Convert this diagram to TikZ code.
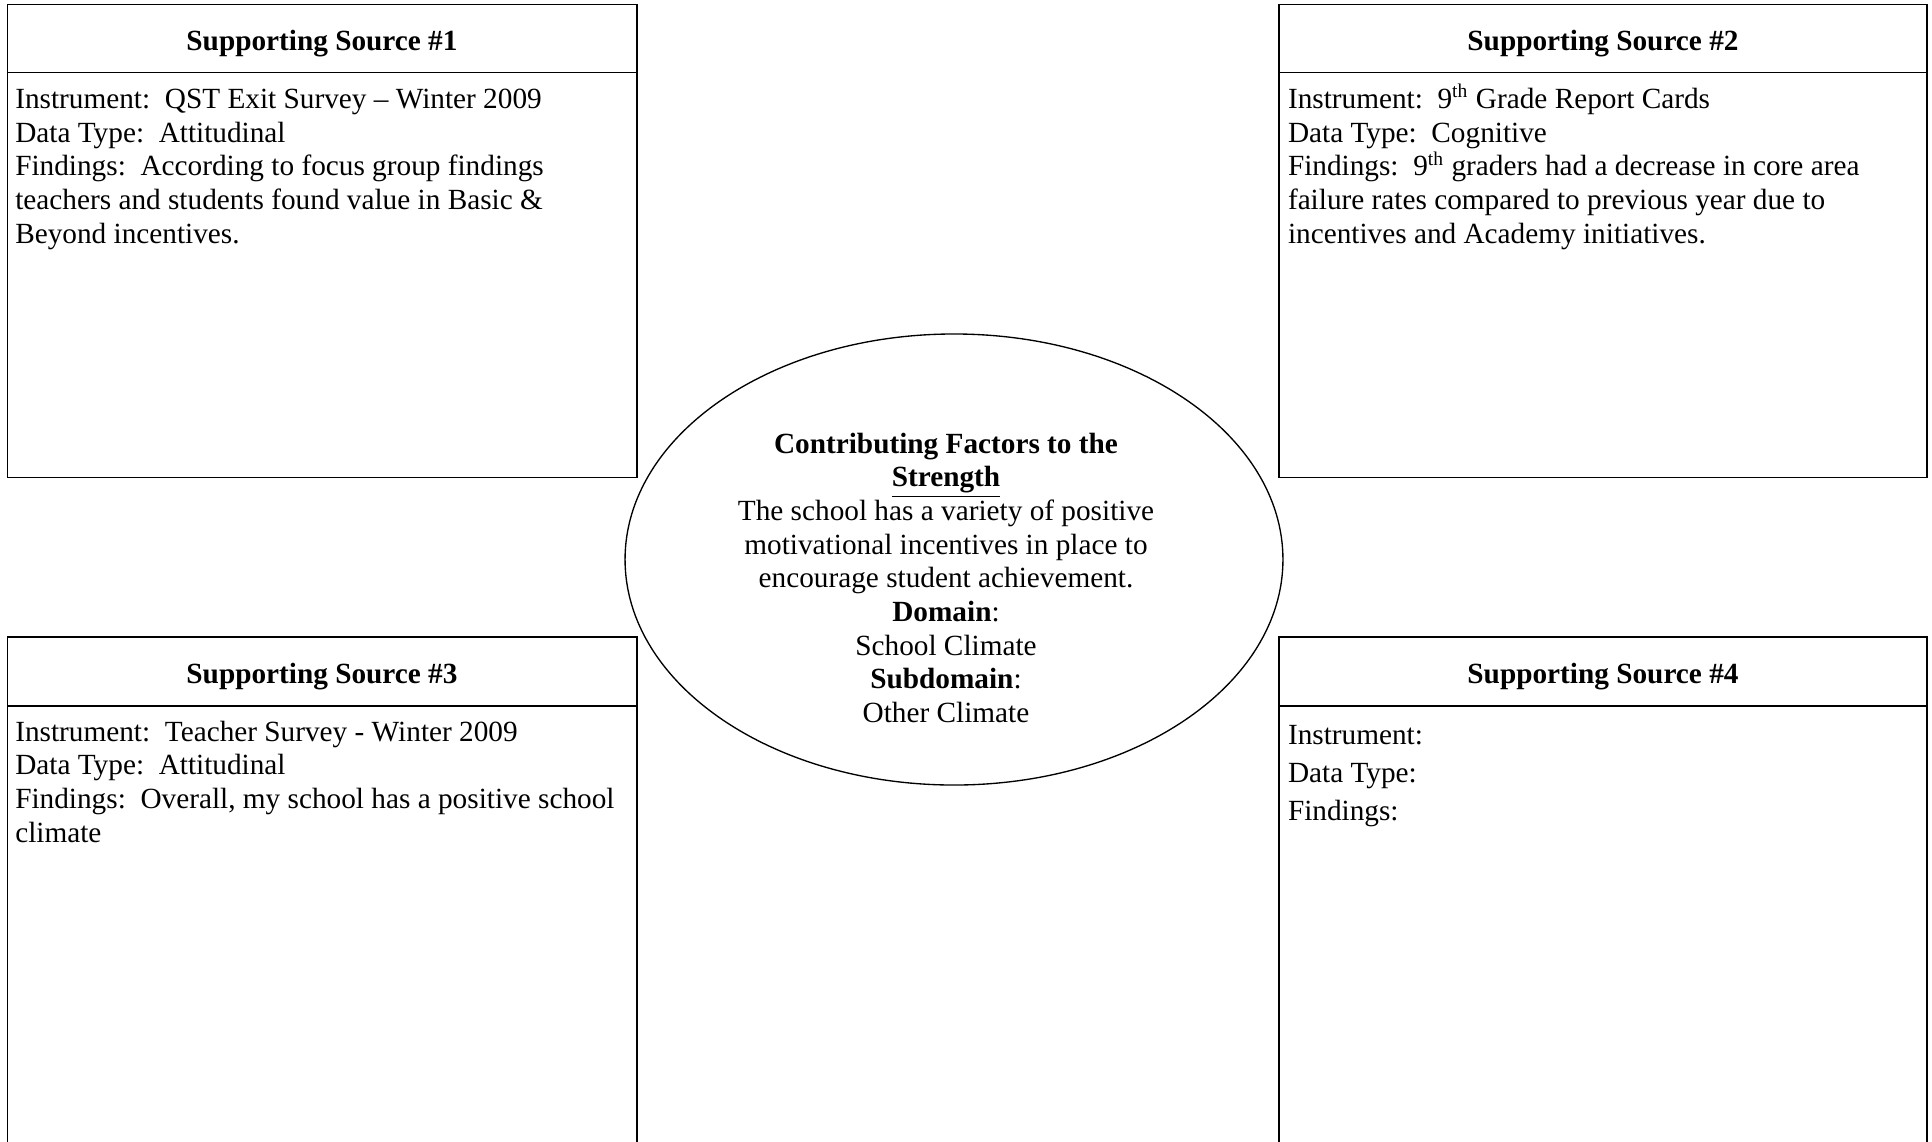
\documentclass[tikz,border=0pt]{standalone}
\usepackage{fontspec}
\setmainfont{Liberation Serif}
\usetikzlibrary{shapes.geometric}
\begin{document}
\begin{tikzpicture}[x=0.40994pt,y=-0.40994pt,
  frame/.style={draw=black,line width=0.55pt},
  head/.style={font=\fontsize{12}{13.8}\selectfont\bfseries,anchor=base,inner sep=0pt},
  body/.style={font=\fontsize{12}{13.8}\selectfont,anchor=base west,inner sep=0pt},
  mid/.style={font=\fontsize{12}{13.8}\selectfont,anchor=base,inner sep=0pt}]
\useasboundingbox[fill=white] (0,0) rectangle (1932,1141);
\clip (0,0) rectangle (1932,1141);

% four source boxes, each with a header strip
\draw[frame] (7.5,4.5) rectangle (637,477.5);
\draw[frame] (7.5,72.5) -- (637,72.5);
\draw[frame] (1279,4.5) rectangle (1927,477.5);
\draw[frame] (1279,72.5) -- (1927,72.5);
\draw[frame] (7.5,637) rectangle (637,1170);
\draw[frame] (7.5,706) -- (637,706);
\draw[frame] (1279,637) rectangle (1927,1170);
\draw[frame] (1279,706) -- (1927,706);

% Source 1
\node[head] (h1) at (322,50) {Supporting Source \#1};
\node[body] (s1a) at (14.8,108.3) {Instrument:\ \ QST Exit Survey – Winter 2009};
\node[body] (s1b) at (14.8,142) {Data Type:\ \ Attitudinal};
\node[body] (s1c) at (14.8,175.7) {Findings:\ \ According to focus group findings};
\node[body] (s1d) at (14.8,209.4) {teachers and students found value in Basic \&};
\node[body] (s1e) at (14.8,243.1) {Beyond incentives.};

% Source 2
\node[head] (h2) at (1603,50) {Supporting Source \#2};
\node[body] (s2a) at (1287.5,108.3) {Instrument:\ \ 9\textsuperscript{th} Grade Report Cards};
\node[body] (s2b) at (1287.5,142) {Data Type:\ \ Cognitive};
\node[body] (s2c) at (1287.5,175.7) {Findings:\ \ 9\textsuperscript{th} graders had a decrease in core area};
\node[body] (s2d) at (1287.5,209.4) {failure rates compared to previous year due to};
\node[body] (s2e) at (1287.5,243.1) {incentives and Academy initiatives.};

% Source 3
\node[head] (h3) at (322,683.3) {Supporting Source \#3};
\node[body] (s3a) at (14.8,741) {Instrument:\ \ Teacher Survey - Winter 2009};
\node[body] (s3b) at (14.8,774.7) {Data Type:\ \ Attitudinal};
\node[body] (s3c) at (14.8,808.4) {Findings:\ \ Overall, my school has a positive school};
\node[body] (s3d) at (14.8,842.1) {climate};

% Source 4
\node[head] (h4) at (1603,683.3) {Supporting Source \#4};
\node[body] (s4a) at (1287.5,744) {Instrument:};
\node[body] (s4b) at (1287.5,782) {Data Type:};
\node[body] (s4c) at (1287.5,820) {Findings:};

% central strength ellipse
\node[ellipse,draw=black,line width=0.55pt,fill=white,inner sep=0pt,
      minimum width=269.7pt,minimum height=184.9pt] (core) at (954,559.5) {};
\node[mid,font=\fontsize{12}{13.8}\selectfont\bfseries] (c1) at (946,453) {Contributing Factors to the};
\node[mid,font=\fontsize{12}{13.8}\selectfont\bfseries] (c2) at (946,486.7) {\underline{Strength}};
\node[mid] (c3) at (946,520.4) {The school has a variety of positive};
\node[mid] (c4) at (946,554.1) {motivational incentives in place to};
\node[mid] (c5) at (946,587.8) {encourage student achievement.};
\node[mid] (c6) at (946,621.5) {\textbf{Domain}:};
\node[mid] (c7) at (946,655.2) {School Climate};
\node[mid] (c8) at (946,688.9) {\textbf{Subdomain}:};
\node[mid] (c9) at (946,722.6) {Other Climate};
\end{tikzpicture}
\end{document}
